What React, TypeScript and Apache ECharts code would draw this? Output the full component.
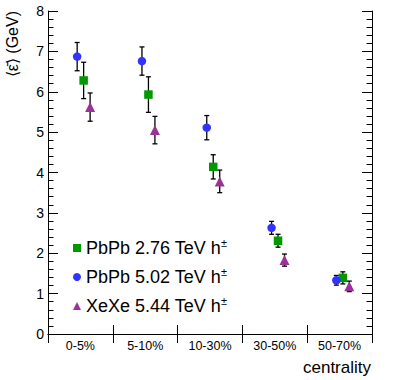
import React, { useEffect, useRef } from 'react';
import * as echarts from 'echarts';

const categories = ['0-5%', '5-10%', '10-30%', '30-50%', '50-70%'];
const yTicks = [0, 1, 2, 3, 4, 5, 6, 7, 8];

const pbpb276 = [6.28, 5.93, 4.14, 2.31, 1.39];
const pbpb276Err = [0.45, 0.44, 0.3, 0.16, 0.15];
const pbpb502 = [6.87, 6.76, 5.11, 2.63, 1.33];
const pbpb502Err = [0.35, 0.35, 0.3, 0.16, 0.12];
const xexe544 = [5.62, 5.05, 3.78, 1.83, 1.18];
const xexe544Err = [0.35, 0.34, 0.28, 0.15, 0.13];

const seriesNames = ['PbPb 2.76 TeV h', 'PbPb 5.02 TeV h', 'XeXe 5.44 TeV h'];
const seriesColors = ['#009900', '#3333ff', '#993399'];
const seriesSymbols = ['rect', 'circle', 'triangle'];
const seriesOffsets = [0.05, -0.05, 0.15];

const FONT = 'Liberation Sans, Arial, Helvetica, sans-serif';

export default function App() {
  const ref = useRef<HTMLDivElement>(null);
  useEffect(() => {
    const chart = echarts.init(ref.current!, null, { renderer: 'svg' });
    const values = [pbpb276, pbpb502, xexe544];
    const errs = [pbpb276Err, pbpb502Err, xexe544Err];
    const axisLine = { show: true, lineStyle: { color: '#000', width: 1 } };

    const series: any[] = [];
    values.forEach((vals, k) => {
      const pts = vals.map((v, i) => [i + 0.5 + seriesOffsets[k], v - errs[k][i], v + errs[k][i]]);
      series.push({
        type: 'custom',
        xAxisIndex: 1,
        yAxisIndex: 0,
        z: 2,
        encode: { x: 0, y: [1, 2] },
        data: pts,
        renderItem: (params: any, api: any) => {
          const x = api.value(0);
          const lo = api.coord([x, api.value(1)]);
          const hi = api.coord([x, api.value(2)]);
          const hw = 2.5;
          const style = { stroke: '#000', lineWidth: 1.3 };
          return {
            type: 'group',
            children: [
              { type: 'line', shape: { x1: lo[0], y1: lo[1], x2: hi[0], y2: hi[1] }, style },
              { type: 'line', shape: { x1: lo[0] - hw, y1: lo[1], x2: lo[0] + hw, y2: lo[1] }, style },
              { type: 'line', shape: { x1: hi[0] - hw, y1: hi[1], x2: hi[0] + hw, y2: hi[1] }, style },
            ],
          };
        },
      });
      series.push({
        type: 'scatter',
        name: seriesNames[k],
        xAxisIndex: 1,
        yAxisIndex: 0,
        z: 3,
        symbol: seriesSymbols[k],
        symbolSize: k === 2 ? 10 : 8.5,
        itemStyle: { color: seriesColors[k], opacity: 1 },
        data: vals.map((v, i) => [i + 0.5 + seriesOffsets[k], v]),
      });
    });

    chart.setOption({
      animation: false,
      backgroundColor: '#fff',
      textStyle: { fontFamily: FONT },
      grid: { left: 48, right: 26, top: 11, bottom: 46, containLabel: false },
      legend: {
        orient: 'vertical',
        left: 68,
        top: 232,
        itemWidth: 8,
        itemHeight: 8,
        itemGap: 9,
        data: seriesNames,
        formatter: (name: string) => `{a|${name}}{s|±}`,
        textStyle: {
          color: '#000',
          fontFamily: FONT,
          rich: {
            a: { fontSize: 18, fontFamily: FONT, color: '#000', lineHeight: 22 },
            s: { fontSize: 11, fontFamily: FONT, color: '#000', verticalAlign: 'top', lineHeight: 22, padding: [0, 0, 8, 0] },
          },
        },
      },
      xAxis: [
        {
          type: 'category',
          data: categories,
          position: 'bottom',
          boundaryGap: true,
          axisLine,
          axisTick: { show: true, inside: true, length: 9, lineStyle: { color: '#000' } },
          axisLabel: { color: '#000', fontSize: 12.5, margin: 5, fontFamily: FONT },
          splitLine: { show: false },
        },
        {
          type: 'value',
          min: 0,
          max: 5,
          interval: 1,
          position: 'top',
          axisLine,
          axisTick: { show: true, inside: true, length: 9, lineStyle: { color: '#000' } },
          axisLabel: { show: false },
          splitLine: { show: false },
        },
      ],
      yAxis: [0, 1].map((idx) => ({
        type: 'value',
        min: yTicks[0],
        max: yTicks[yTicks.length - 1],
        interval: 1,
        position: idx === 0 ? 'left' : 'right',
        axisLine,
        axisTick: { show: true, inside: true, length: 10, lineStyle: { color: '#000' } },
        minorTick: { show: true, splitNumber: 5, length: 5.5, lineStyle: { color: '#000' } },
        axisLabel: idx === 0 ? { color: '#000', fontSize: 14, margin: 4, fontFamily: FONT } : { show: false },
        splitLine: { show: false },
        minorSplitLine: { show: false },
      })),
      graphic: [
        {
          type: 'text',
          x: 12,
          y: 11,
          rotation: Math.PI / 2,
          style: {
            text: '⟨ε̄⟩ (GeV)',
            font: `16px ${FONT}`,
            fill: '#000',
            align: 'right',
            verticalAlign: 'middle',
          },
        },
        {
          type: 'text',
          x: 371,
          y: 367,
          style: {
            text: 'centrality',
            font: `17px ${FONT}`,
            fill: '#000',
            align: 'right',
            verticalAlign: 'middle',
          },
        },
      ],
      series,
    });
    return () => chart.dispose();
  }, []);
  return (
    <div
      ref={ref}
      style={{ position: 'fixed', left: 0, top: 0, width: 398, height: 380, background: '#fff' }}
    />
  );
}
